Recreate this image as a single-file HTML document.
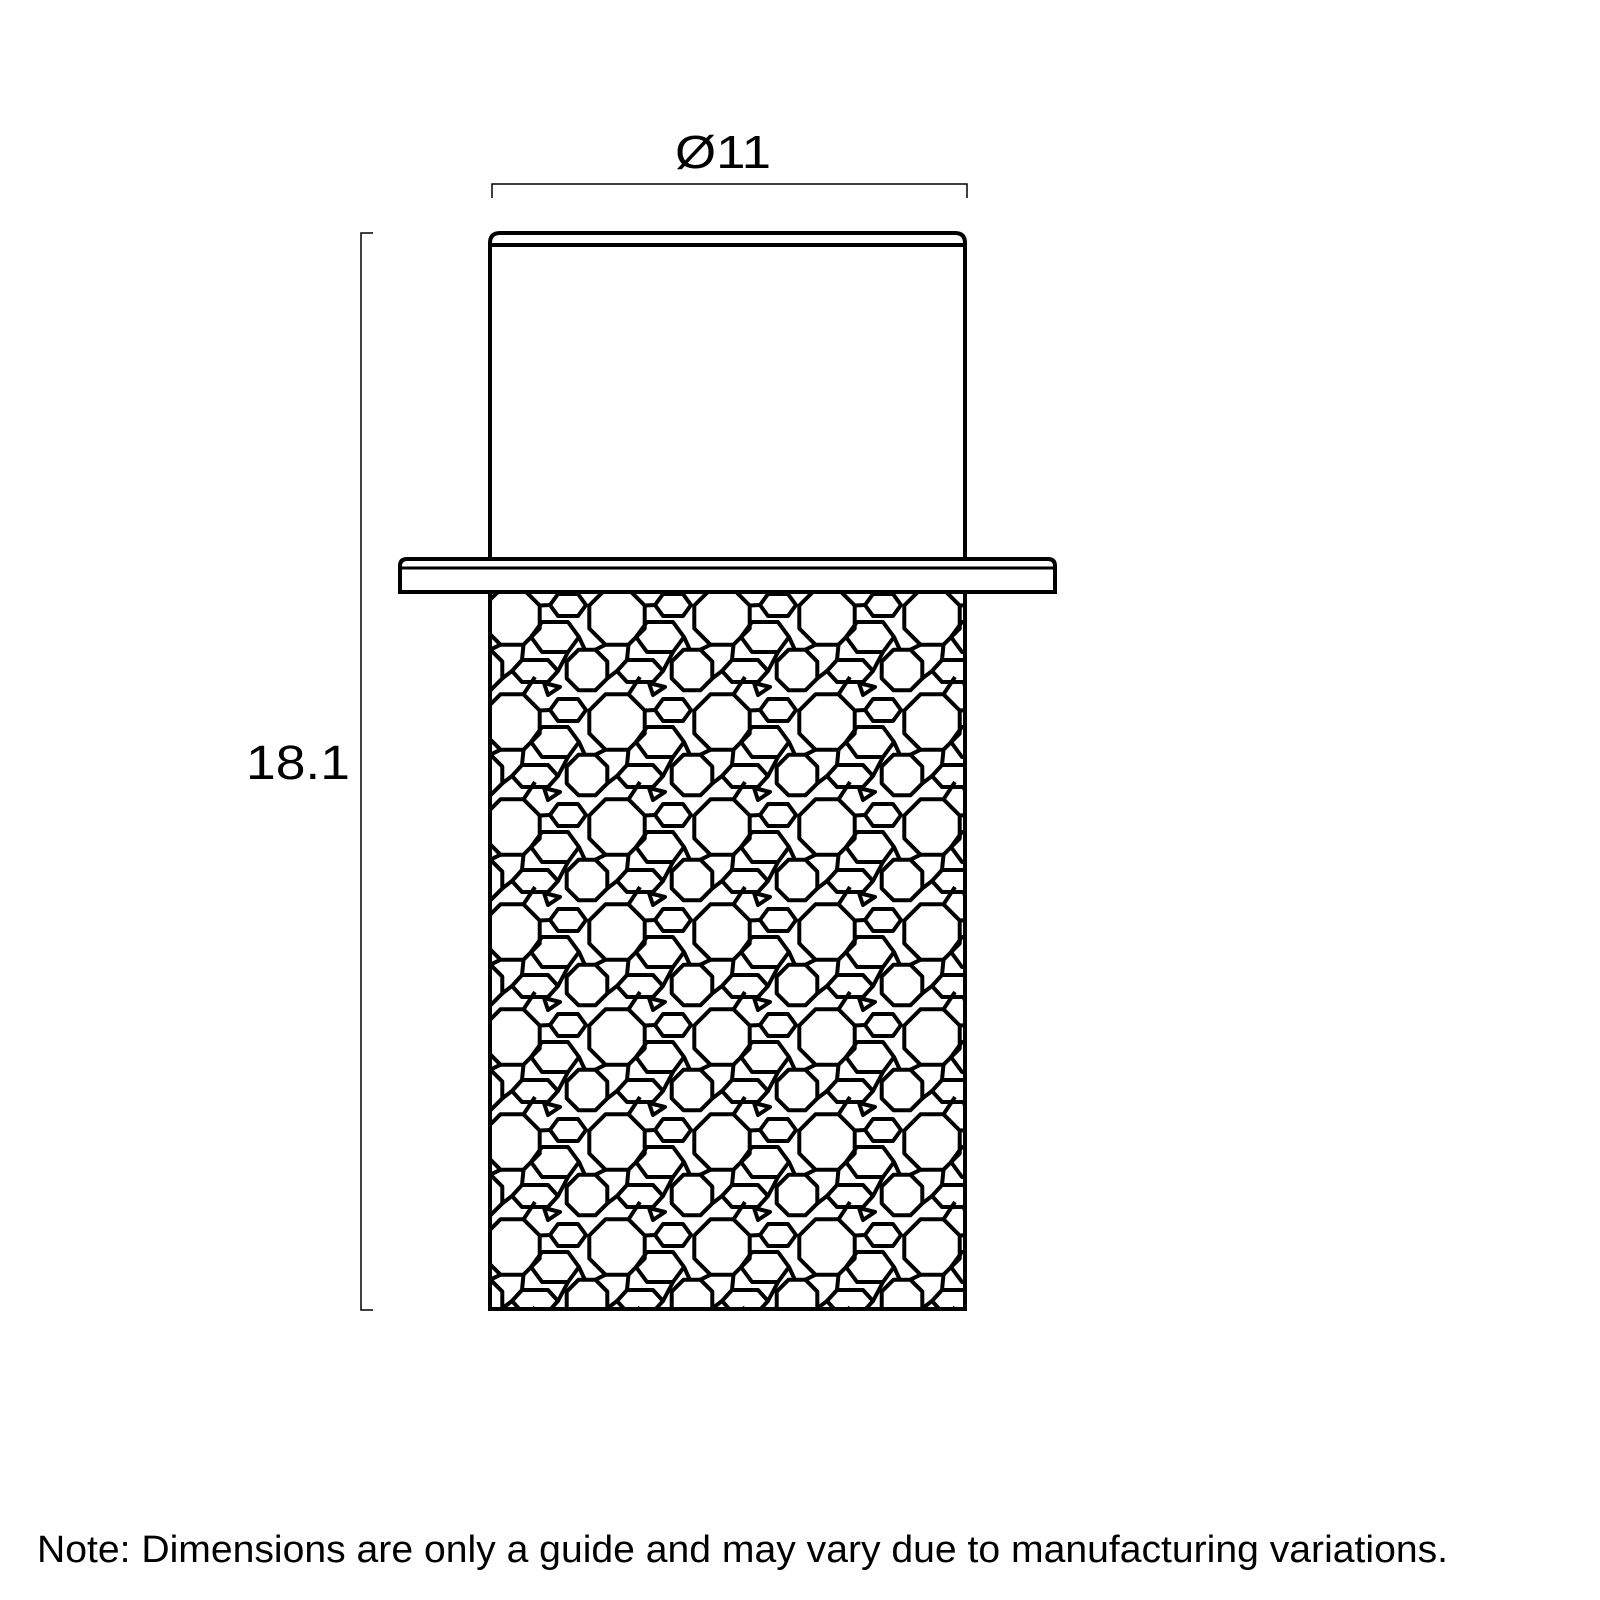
<!DOCTYPE html>
<html><head><meta charset="utf-8"><style>
html,body{margin:0;padding:0;background:#fff;}
svg{display:block;}
text{font-family:"Liberation Sans",sans-serif;fill:#000;}
</style></head><body>
<svg width="1600" height="1600" viewBox="0 0 1600 1600" xmlns="http://www.w3.org/2000/svg">
<defs>
<g id="cell" fill="none" stroke="#000" stroke-width="4" stroke-linejoin="round">
  <polygon points="59.7,58.5 43.5,74.7 20.5,74.7 4.3,58.5 4.3,35.5 20.5,19.3 43.5,19.3 59.7,35.5"/>
  <polygon points="106,35 98,46 78,46 70,35 78,24 98,24"/>
  <polygon points="99,67 88,82 62,82 51,67 62,52 88,52"/>
  <polygon points="22.3,108.4 10.4,120.3 -6.4,120.3 -18.3,108.4 -18.3,91.6 -6.4,79.7 10.4,79.7 22.3,91.6"/>
  <polygon points="78,101 68,112 42,112 32,101 42,90 68,90"/>
  <polygon points="64,8 80,12 68,20"/>
  <path d="M59.7,35.5 L70,35 M59.7,58.5 L51,67 M43.5,74.7 L42,90 M20.5,74.7 L10.4,79.7 M99,67 L105,80 M88,82 L78,101 M22.3,108.4 L32,101 M43.5,19.3 L55,2"/>
</g>
<pattern id="pat" patternUnits="userSpaceOnUse" x="480" y="570" width="105" height="105">
  <use href="#cell" transform="translate(-105,-105)"/><use href="#cell" transform="translate(0,-105)"/><use href="#cell" transform="translate(105,-105)"/>
  <use href="#cell" transform="translate(-105,0)"/><use href="#cell"/><use href="#cell" transform="translate(105,0)"/>
  <use href="#cell" transform="translate(-105,105)"/><use href="#cell" transform="translate(0,105)"/><use href="#cell" transform="translate(105,105)"/>
</pattern>
</defs>

<text x="675" y="168" font-size="46" textLength="96" lengthAdjust="spacingAndGlyphs">Ø11</text>
<path d="M492,198 V184 H967 V198" fill="none" stroke="#000" stroke-width="1.5"/>
<text x="246" y="779" font-size="48" textLength="104" lengthAdjust="spacingAndGlyphs">18.1</text>
<path d="M373,233 H361 V1310 H373" fill="none" stroke="#000" stroke-width="1.5"/>

<path d="M490,560 V243 Q490,233 500,233 H955 Q965,233 965,243 V560" fill="none" stroke="#000" stroke-width="4"/>
<line x1="490" y1="245" x2="965" y2="245" stroke="#000" stroke-width="4"/>
<path d="M400,592 V566 Q400,559 407,559 H1048 Q1055,559 1055,566 V592 Z" fill="#fff" stroke="#000" stroke-width="4"/>
<line x1="400" y1="568" x2="1055" y2="568" stroke="#000" stroke-width="3"/>
<rect x="490" y="592" width="475" height="717" fill="url(#pat)"/>
<path d="M490,592 V1309 H965 V592" fill="none" stroke="#000" stroke-width="4"/>

<text x="37" y="1562" font-size="38" textLength="1411" lengthAdjust="spacingAndGlyphs">Note: Dimensions are only a guide and may vary due to manufacturing variations.</text>
</svg>
</body></html>
